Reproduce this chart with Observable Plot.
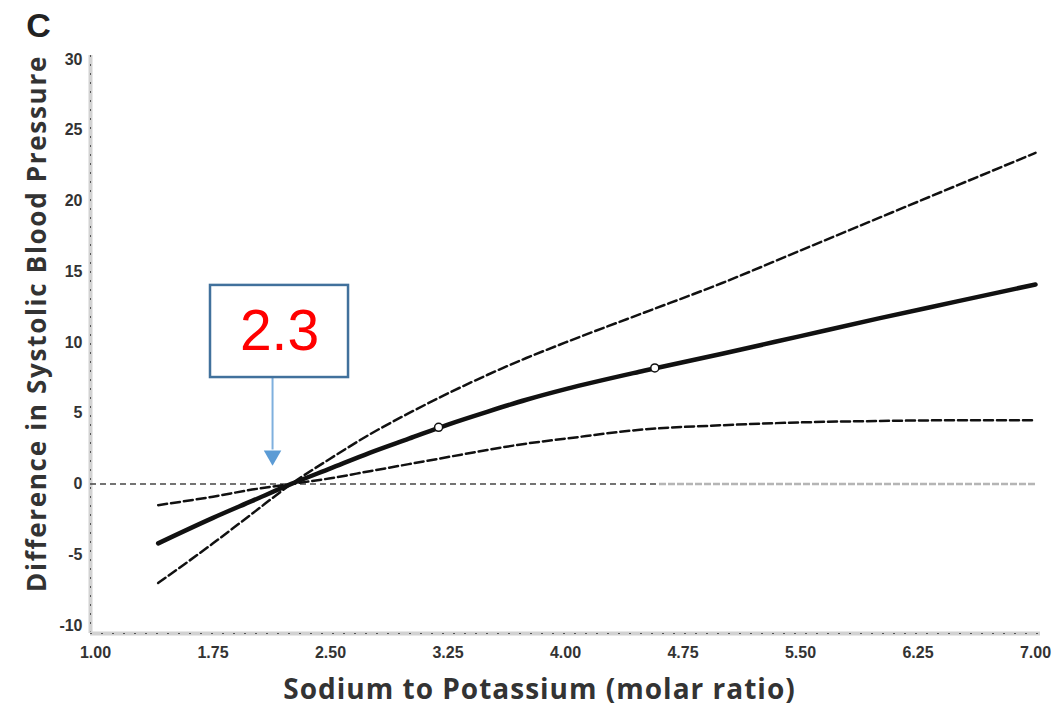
<!DOCTYPE html>
<html><head><meta charset="utf-8">
<script src="https://cdn.jsdelivr.net/npm/d3@7"></script>
<script src="https://cdn.jsdelivr.net/npm/@observablehq/plot@0.6"></script>
<style>body{margin:0;background:#fff} svg{display:block}</style>
</head><body><div id="chart"></div>
<script>
// Sodium-to-potassium molar ratio (x) and difference in systolic BP (y)
const ratio    = [1.4, 1.75, 2.0, 2.25, 2.5, 2.75, 3.0, 3.25, 3.5, 3.75, 4.0, 4.5, 5.0, 5.5, 6.0, 6.5, 7.0];
const estimate = [-4.2, -2.4, -1.2, 0.0, 1.1, 2.2, 3.2, 4.2, 5.1, 5.95, 6.7, 8.0, 9.2, 10.45, 11.7, 12.9, 14.1];
const upperCI  = [-7.0, -4.2, -2.1, 0.0, 1.8, 3.5, 5.0, 6.4, 7.7, 8.9, 10.0, 12.1, 14.2, 16.5, 18.8, 21.1, 23.4];
const lowerCI  = [-1.5, -0.9, -0.4, 0.0, 0.4, 0.9, 1.4, 1.9, 2.4, 2.85, 3.2, 3.85, 4.15, 4.35, 4.45, 4.5, 4.5];
const knotRatio = [3.19, 4.57];
const knotValue = [4.0, 8.2];
const xTicks = [1.00, 1.75, 2.50, 3.25, 4.00, 4.75, 5.50, 6.25, 7.00];
const yTicks = [-10, -5, 0, 5, 10, 15, 20, 25, 30];
const panelLabel = "C";
const xLabel = "Sodium to Potassium (molar ratio)";
const yLabel = "Difference in Systolic Blood Pressure";
const annotationLabel = "2.3";
const annotationX = 2.13;        // where the arrow points
const annotationBox = {x1: 1.734, x2: 2.615, y1: 7.52, y2: 14.03};
const arrowTipY = 2.0;

const xDomain = [0.968, 7.032];
const yDomain = [-10.57, 30.28];

const curve = ratio.map((r, i) => ({r, est: estimate[i], hi: upperCI[i], lo: lowerCI[i]}));
const knots = knotRatio.map((r, i) => ({r, v: knotValue[i]}));
const ann = [{x: annotationX, ...annotationBox, tx: (annotationBox.x1 + annotationBox.x2) / 2,
  ty: (annotationBox.y1 + annotationBox.y2) / 2, tip: arrowTipY, label: annotationLabel}];

const chart = Plot.plot({
  width: 1056, height: 709,
  marginLeft: 90, marginRight: 16, marginTop: 55, marginBottom: 76,
  style: {fontFamily: "'Liberation Sans', Arial, sans-serif", background: "#fff"},
  x: {domain: xDomain},
  y: {domain: yDomain},
  marks: [
    // axes lines (scanned-looking)
    Plot.ruleX([xDomain[0]], {stroke: "#d2d2d2", strokeWidth: 4}),
    Plot.ruleX([xDomain[0]], {stroke: "#555", strokeWidth: 1, strokeDasharray: "2,7"}),
    Plot.ruleY([yDomain[0]], {stroke: "#d2d2d2", strokeWidth: 4}),
    Plot.ruleY([yDomain[0]], {stroke: "#555", strokeWidth: 1, strokeDasharray: "2,9"}),
    Plot.axisX({ticks: xTicks, tickFormat: d => d.toFixed(2), tickSize: 0, tickPadding: 13,
      fontSize: 16, fontWeight: "bold", fill: "#333", label: null}),
    Plot.axisY({ticks: yTicks, tickFormat: d => String(d), tickSize: 0, tickPadding: 8,
      fontSize: 16, fontWeight: "bold", fill: "#333", label: null}),
    // reference line at 0 (darker on the left, fading on the right)
    Plot.ruleY([0], {x1: xDomain[0], x2: 4.6, stroke: "#444", strokeWidth: 2, strokeDasharray: "6,4", strokeOpacity: 0.75}),
    Plot.ruleY([0], {x1: 4.6, x2: 7.0, stroke: "#b5b5b5", strokeWidth: 2.5, strokeDasharray: "7,2"}),
    // confidence limits
    Plot.line(curve, {x: "r", y: "hi", curve: "monotone-x", stroke: "#111", strokeWidth: 2.5, strokeDasharray: "9,4"}),
    Plot.line(curve, {x: "r", y: "lo", curve: "monotone-x", stroke: "#111", strokeWidth: 2.5, strokeDasharray: "9,4"}),
    // estimate
    Plot.line(curve, {x: "r", y: "est", curve: "monotone-x", stroke: "#111", strokeWidth: 4.5}),
    Plot.dot(knots, {x: "r", y: "v", r: 4, fill: "white", stroke: "#111", strokeWidth: 1.5}),
    // annotation
    Plot.ruleX(ann, {x: "x", y1: "y1", y2: d => d.tip + 0.4, stroke: "#7FB0DE", strokeWidth: 2}),
    Plot.dot(ann, {x: "x", y: "tip", symbol: "triangle", rotate: 180, r: 6.5, fill: "#5B9BD5", stroke: "none"}),
    Plot.rect(ann, {x1: "x1", x2: "x2", y1: "y1", y2: "y2", fill: "white", stroke: "#41719C", strokeWidth: 2.5}),
    Plot.text(ann, {x: "tx", y: "ty", text: "label", fontSize: 57, fill: "#FF0000", lineAnchor: "middle"}),
    // labels
    Plot.text([panelLabel], {frameAnchor: "top-left", dx: -52, dy: -29, fontSize: 34, fontWeight: "900",
      fill: "#222", textAnchor: "middle", lineAnchor: "middle"}),
    Plot.text([yLabel], {frameAnchor: "left", dx: -53, dy: -21, rotate: -90, fontSize: 26, fontWeight: "bold",
      fill: "#333", fontFamily: "'Open Sans', sans-serif", textAnchor: "middle", lineAnchor: "middle"}),
    Plot.text([xLabel], {frameAnchor: "bottom", dx: -26, dy: 57, fontSize: 28, fontWeight: "bold",
      fill: "#333", fontFamily: "'Open Sans', sans-serif", textAnchor: "middle", lineAnchor: "middle"})
  ]
});
// widen the axis titles to the reference's letter spacing
d3.select(chart).selectAll("text").each(function() {
  const t = this.textContent;
  if (t === yLabel) d3.select(this).style("letter-spacing", "1.7px");
  if (t === xLabel) d3.select(this).style("letter-spacing", "1px");
});
document.getElementById("chart").appendChild(chart);
</script>
</body></html>
